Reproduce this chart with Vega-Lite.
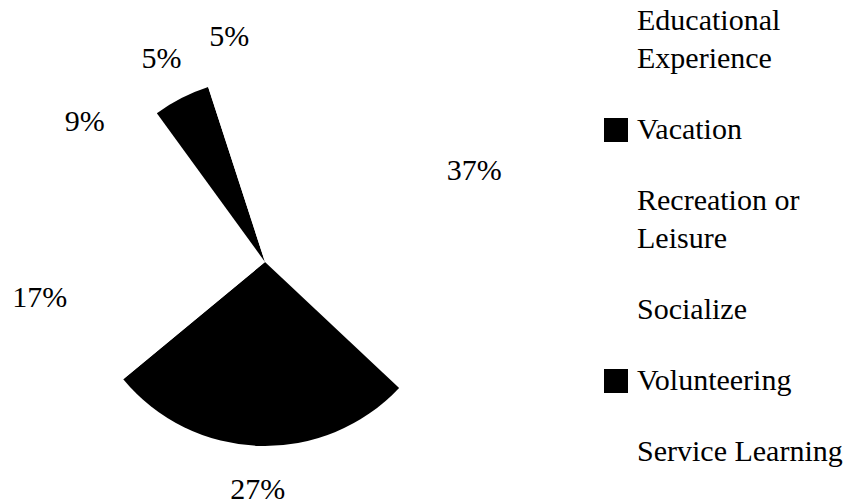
{
  "$schema": "https://vega.github.io/schema/vega-lite/v6.json",
  "width": 530,
  "height": 524,
  "padding": 0,
  "autosize": {"type": "pad"},
  "background": "white",
  "config": {"view": {"stroke": null}},
  "data": {"values": [
    {"category": "Educational Experience", "pct": 0.37, "idx": 1},
    {"category": "Vacation", "pct": 0.27, "idx": 2},
    {"category": "Recreation or Leisure", "pct": 0.17, "idx": 3},
    {"category": "Socialize", "pct": 0.09, "idx": 4},
    {"category": "Volunteering", "pct": 0.05, "idx": 5},
    {"category": "Service Learning", "pct": 0.05, "idx": 6}
  ]},
  "encoding": {
    "theta": {"field": "pct", "type": "quantitative", "stack": true},
    "order": {"field": "idx", "type": "quantitative", "sort": "ascending"},
    "detail": {"field": "category", "type": "nominal"}
  },
  "layer": [
    {
      "mark": {"type": "arc", "radius": 184, "strokeWidth": 0},
      "encoding": {
        "color": {
          "field": "category",
          "type": "nominal",
          "sort": null,
          "scale": {
            "domain": ["Educational Experience", "Vacation", "Recreation or Leisure", "Socialize", "Volunteering", "Service Learning"],
            "range": ["white", "black", "white", "white", "black", "white"]
          },
          "legend": {
            "title": null,
            "orient": "none",
            "legendX": 601,
            "legendY": 6,
            "padding": 0,
            "symbolType": "square",
            "symbolSize": 576,
            "symbolStrokeWidth": 0,
            "labelFont": "Liberation Serif",
            "labelFontSize": 30,
            "labelColor": "black",
            "labelOffset": 6,
            "labelLimit": 400,
            "rowPadding": 41,
            "labelExpr": "datum.label == 'Educational Experience' ? ['Educational', 'Experience'] : datum.label == 'Recreation or Leisure' ? ['Recreation or', 'Leisure'] : datum.label",
            "encode": {"labels": {"update": {"lineHeight": {"value": 38}}}}
          }
        }
      }
    },
    {
      "mark": {"type": "text", "radius": 228, "font": "Liberation Serif", "fontSize": 30, "fill": "black", "align": "center", "baseline": "middle"},
      "encoding": {
        "text": {"field": "pct", "type": "quantitative", "format": ".0%"}
      }
    }
  ]
}
